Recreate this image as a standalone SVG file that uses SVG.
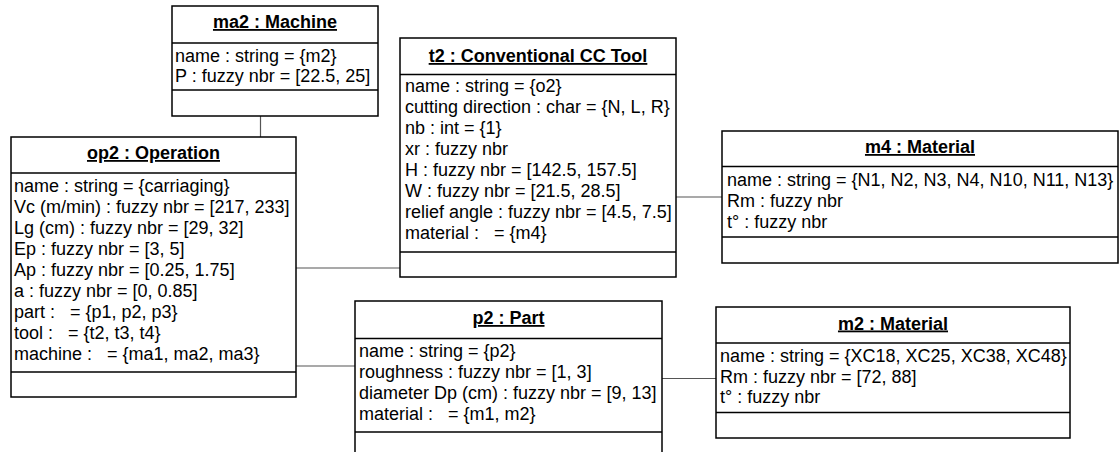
<svg xmlns="http://www.w3.org/2000/svg" width="1120" height="452" viewBox="0 0 1120 452">
<style>
.box{fill:#fff;stroke:#000;stroke-width:1.5}
.sep{stroke:#000;stroke-width:1.5}
.conn{stroke:#555;stroke-width:1.2;fill:none}
.t{font-family:"Liberation Sans",Arial,sans-serif;font-size:18px;fill:#000}
.h{font-family:"Liberation Sans",Arial,sans-serif;font-size:18px;font-weight:bold;fill:#000;text-anchor:middle;text-decoration:underline}
</style>
<rect width="1120" height="452" fill="#fff"/>
<g id="connectors">
<line class="conn" x1="260.5" y1="116" x2="260.5" y2="137"/>
<line class="conn" x1="296" y1="268" x2="400" y2="268"/>
<line class="conn" x1="296" y1="366" x2="355" y2="366"/>
<line class="conn" x1="676" y1="197" x2="722" y2="197"/>
<line class="conn" x1="662" y1="378.5" x2="716" y2="378.5"/>
</g>
<g id="ma2">
<rect class="box" x="172" y="6" width="206" height="110"/>
<line class="sep" x1="172" y1="43" x2="378" y2="43"/>
<line class="sep" x1="172" y1="90" x2="378" y2="90"/>
<text class="h" x="275" y="28">ma2 : Machine</text>
<text class="t" x="175" y="61.5">name : string = {m2}</text>
<text class="t" x="175" y="82">P : fuzzy nbr = [22.5, 25]</text>
</g>
<g id="op2">
<rect class="box" x="11" y="137" width="285" height="260"/>
<line class="sep" x1="11" y1="173" x2="296" y2="173"/>
<line class="sep" x1="11" y1="372" x2="296" y2="372"/>
<text class="h" x="153.5" y="159">op2 : Operation</text>
<text class="t" x="14" y="192">name : string = {carriaging}</text>
<text class="t" x="14" y="213">Vc (m/min) : fuzzy nbr = [217, 233]</text>
<text class="t" x="14" y="234">Lg (cm) : fuzzy nbr = [29, 32]</text>
<text class="t" x="14" y="255">Ep : fuzzy nbr = [3, 5]</text>
<text class="t" x="14" y="276">Ap : fuzzy nbr = [0.25, 1.75]</text>
<text class="t" x="14" y="297">a : fuzzy nbr = [0, 0.85]</text>
<text class="t" x="14" y="318" xml:space="preserve">part :   = {p1, p2, p3}</text>
<text class="t" x="14" y="339" xml:space="preserve">tool :   = {t2, t3, t4}</text>
<text class="t" x="14" y="360" xml:space="preserve">machine :   = {ma1, ma2, ma3}</text>
</g>
<g id="t2">
<rect class="box" x="400" y="38" width="276" height="239"/>
<line class="sep" x1="400" y1="74.5" x2="676" y2="74.5"/>
<line class="sep" x1="400" y1="252" x2="676" y2="252"/>
<text class="h" x="538" y="62">t2 : Conventional CC Tool</text>
<text class="t" x="405" y="92">name : string = {o2}</text>
<text class="t" x="405" y="113">cutting direction : char = {N, L, R}</text>
<text class="t" x="405" y="134">nb : int = {1}</text>
<text class="t" x="405" y="155">xr : fuzzy nbr</text>
<text class="t" x="405" y="176">H : fuzzy nbr = [142.5, 157.5]</text>
<text class="t" x="405" y="197">W : fuzzy nbr = [21.5, 28.5]</text>
<text class="t" x="405" y="218">relief angle : fuzzy nbr = [4.5, 7.5]</text>
<text class="t" x="405" y="239" xml:space="preserve">material :   = {m4}</text>
</g>
<g id="m4">
<rect class="box" x="722" y="131" width="396" height="132"/>
<line class="sep" x1="722" y1="166.5" x2="1118" y2="166.5"/>
<line class="sep" x1="722" y1="237" x2="1118" y2="237"/>
<text class="h" x="920" y="153">m4 : Material</text>
<text class="t" x="727" y="185.5">name : string = {N1, N2, N3, N4, N10, N11, N13}</text>
<text class="t" x="727" y="206.5">Rm : fuzzy nbr</text>
<text class="t" x="727" y="227.5">t° : fuzzy nbr</text>
</g>
<g id="p2">
<rect class="box" x="355" y="301" width="307" height="170"/>
<line class="sep" x1="355" y1="338.5" x2="662" y2="338.5"/>
<line class="sep" x1="355" y1="432" x2="662" y2="432"/>
<text class="h" x="508.5" y="324">p2 : Part</text>
<text class="t" x="359" y="357">name : string = {p2}</text>
<text class="t" x="359" y="378">roughness : fuzzy nbr = [1, 3]</text>
<text class="t" x="359" y="399">diameter Dp (cm) : fuzzy nbr = [9, 13]</text>
<text class="t" x="359" y="420" xml:space="preserve">material :   = {m1, m2}</text>
</g>
<g id="m2">
<rect class="box" x="716" y="307" width="354" height="131"/>
<line class="sep" x1="716" y1="343" x2="1070" y2="343"/>
<line class="sep" x1="716" y1="412.5" x2="1070" y2="412.5"/>
<text class="h" x="893" y="329.5">m2 : Material</text>
<text class="t" x="720" y="362">name : string = {XC18, XC25, XC38, XC48}</text>
<text class="t" x="720" y="382.5">Rm : fuzzy nbr = [72, 88]</text>
<text class="t" x="720" y="403">t° : fuzzy nbr</text>
</g>
</svg>
